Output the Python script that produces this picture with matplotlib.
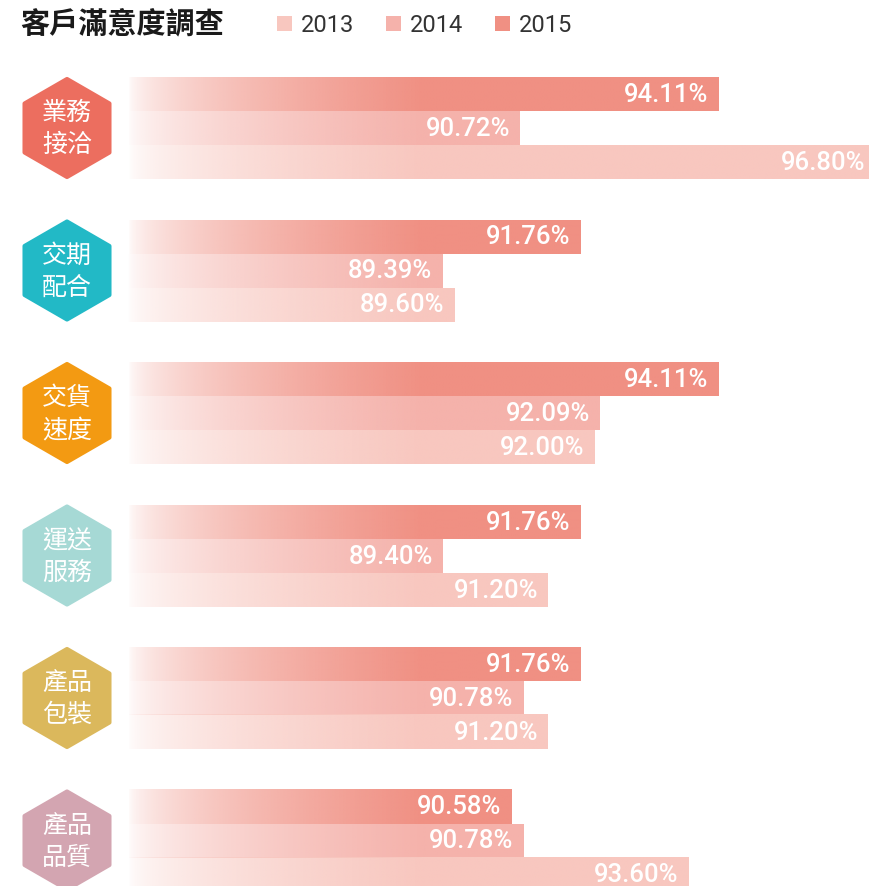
import numpy as np
import matplotlib
matplotlib.use("Agg")
import matplotlib.pyplot as plt
from matplotlib.patches import RegularPolygon, Rectangle
from matplotlib.colors import to_rgb

# ---------------- data ----------------
title = "客戶滿意度調查"
categories = ["業務\n接洽", "交期\n配合", "交貨\n速度", "運送\n服務", "產品\n包裝", "產品\n品質"]
cat_colors = ["#EC6E5F", "#22B9C6", "#F39A12", "#A6D9D5", "#DBB85C", "#D3A5B1"]
years = ["2013", "2014", "2015"]
year_colors = ["#F8C7BF", "#F5B2AB", "#F09083"]
v2013 = [96.80, 89.60, 92.00, 91.20, 91.20, 93.60]
v2014 = [90.72, 89.39, 92.09, 89.40, 90.78, 90.78]
v2015 = [94.11, 91.76, 94.11, 91.76, 91.76, 90.58]

# ---------------- layout ----------------
W, H = 869, 887
fig = plt.figure(figsize=(W / 100, H / 100), dpi=100)
fig.patch.set_facecolor("white")

CJK = ["Noto Sans CJK TC", "DejaVu Sans"]
NUM = ["Roboto", "DejaVu Sans"]

# main bar axes
ax_left_px = 128
ax = fig.add_axes([ax_left_px / W, 0, 1 - ax_left_px / W, 1])
x0, x1 = 84.02, 96.69
ax.set_xlim(x0, x1)
pitch_px = 142.5
bar_h = 34 / pitch_px
first_center_px = 129
ax.set_ylim((H - first_center_px) / pitch_px, -first_center_px / pitch_px)
ax.axis("off")

grad_span = 5.0
grad_pow = 0.55

series = [v2015, v2014, v2013]
series_colors = [year_colors[2], year_colors[1], year_colors[0]]
offsets = [-bar_h, 0.0, bar_h]

for s, col, off in zip(series, series_colors, offsets):
    rgb = np.array(to_rgb(col))
    for i, v in enumerate(s):
        yc = i + off
        xs = np.linspace(x0, v, 400)
        a = np.clip((xs - x0) / grad_span, 0, 1) ** grad_pow
        img = np.ones((1, len(xs), 4))
        img[0, :, :3] = rgb
        img[0, :, 3] = a
        ax.imshow(img, extent=[x0, v, yc + bar_h / 2, yc - bar_h / 2],
                  aspect="auto", interpolation="bilinear", zorder=2)
        ax.text(v - 0.17, yc, f"{v:.2f}%", ha="right", va="center",
                color="white", fontsize=18.5, family=NUM, fontweight="medium",
                zorder=3)

# overlay axes in pixel coordinates for hexagons / title / legend
ov = fig.add_axes([0, 0, 1, 1])
ov.set_xlim(0, W)
ov.set_ylim(H, 0)
ov.axis("off")
ov.patch.set_alpha(0)

for i, (cat, c) in enumerate(zip(categories, cat_colors)):
    cy = first_center_px + i * pitch_px
    hexagon = RegularPolygon((67, cy), numVertices=6, radius=49, orientation=0,
                             facecolor=c, edgecolor=c, linewidth=3,
                             joinstyle="round")
    ov.add_patch(hexagon)
    top, bot = cat.split("\n")
    ov.text(67, cy - 16, top, ha="center", va="center", color="white",
            fontsize=18, family=CJK, fontweight="medium")
    ov.text(67, cy + 16, bot, ha="center", va="center", color="white",
            fontsize=18, family=CJK, fontweight="medium")

ov.text(20, 24, title, ha="left", va="center", fontsize=21,
        fontweight="bold", family=CJK, color="#1a1a1a")

leg_x = [277, 386, 495]
for lx, y, c in zip(leg_x, years, year_colors):
    ov.add_patch(Rectangle((lx, 17), 15, 15, facecolor=c, edgecolor="none"))
    ov.text(lx + 24, 25, y, ha="left", va="center", fontsize=17,
            family=["Liberation Sans Narrow", "Roboto"], color="#333333")

fig.savefig("out.png", dpi=100, facecolor="white")
